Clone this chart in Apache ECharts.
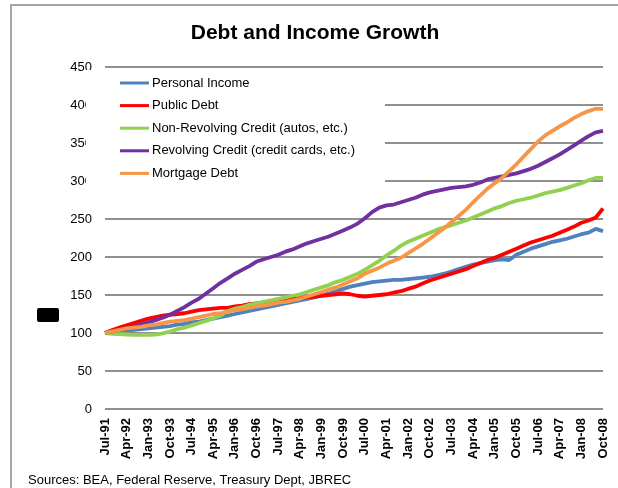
<!DOCTYPE html>
<html><head><meta charset="utf-8">
<script src="https://cdn.jsdelivr.net/npm/echarts@6/dist/echarts.min.js"></script>
<style>html,body{margin:0;padding:0;background:#fff}#c{width:618px;height:488px}</style>
</head><body><div id="c"></div>
<script>
const categories = ['Jul-91','Oct-91','Jan-92','Apr-92','Jul-92','Oct-92','Jan-93','Apr-93','Jul-93','Oct-93',
'Jan-94','Apr-94','Jul-94','Oct-94','Jan-95','Apr-95','Jul-95','Oct-95','Jan-96','Apr-96',
'Jul-96','Oct-96','Jan-97','Apr-97','Jul-97','Oct-97','Jan-98','Apr-98','Jul-98','Oct-98',
'Jan-99','Apr-99','Jul-99','Oct-99','Jan-00','Apr-00','Jul-00','Oct-00','Jan-01','Apr-01',
'Jul-01','Oct-01','Jan-02','Apr-02','Jul-02','Oct-02','Jan-03','Apr-03','Jul-03','Oct-03',
'Jan-04','Apr-04','Jul-04','Oct-04','Jan-05','Apr-05','Jul-05','Oct-05','Jan-06','Apr-06',
'Jul-06','Oct-06','Jan-07','Apr-07','Jul-07','Oct-07','Jan-08','Apr-08','Jul-08','Oct-08'];

const personalIncome = [100,101,102,103,104,105,106,107,108,109,111,112,114,115,117,119,121,123,125,127,
129,131,133,135,137,139,141,143,145,147,149,152,155,158,161,163,165,167,168,169,
170,170,171,172,173,174,176,178,181,184,187,190,192,194,196,197,196,203,207,211,
214,217,220,222,224,227,230,232,237,234];

const publicDebt = [100,104,107,110,113,116,119,121,123,124,125,126,128,130,131,132,133,133,135,136,
138,139,140,141,143,144,145,146,147,148,149,150,151,152,151,149,148,149,150,151,
153,155,158,161,165,169,172,175,178,181,184,188,192,196,199,203,207,211,215,219,
222,225,228,232,236,240,245,248,252,264];

const nonRevolving = [100,99,98.5,98,97.5,97.5,97.5,98,99.5,102,105,107,110,113,116,119,123,129,132,134,
137,139,141,143,145,147,149,151,154,157,160,163,167,170,174,178,183,189,195,202,
208,215,220,224,228,232,236,239,242,245,248,252,256,260,264,267,271,274,276,278,
281,284,286,288,291,294,297,301,304,304];

const revolving = [100,102,104,106,108,111,114,117,120,124,129,134,140,145,152,159,166,172,178,183,
188,194,197,200,203,207,210,214,218,221,224,227,231,235,239,244,251,259,265,268,
269,272,275,278,282,285,287,289,291,292,293,295,298,302,304,306,308,310,313,316,
320,325,330,335,341,347,353,359,364,366];

const mortgage = [100,102,104,106,107,108,110,111,113,115,116,117,119,121,123,125,126,128,130,131,
133,135,136,138,140,141,143,145,148,151,154,157,160,164,168,172,178,182,186,191,
195,199,205,211,217,224,231,238,246,254,262,272,281,290,297,304,313,322,332,342,
352,360,366,372,377,383,388,392,395,395];

const seriesNames = ['Personal Income','Public Debt','Non-Revolving Credit (autos, etc.)','Revolving Credit (credit cards, etc.)','Mortgage Debt'];
const seriesData = [personalIncome, publicDebt, nonRevolving, revolving, mortgage];
const seriesColors = ['#4F81BD','#FF0000','#92D050','#7030A0','#F79646'];

const FONT = 'Liberation Sans';
const chart = echarts.init(document.getElementById('c'), null, {renderer:'canvas'});
chart.setOption({
  animation: false,
  backgroundColor: '#fff',
  grid: {left: 105, right: 15, top: 67, bottom: 79},
  legend: {
    orient: 'vertical', left: 86, top: 70, z: 10,
    backgroundColor: '#fff',
    padding: [5, 30, 7, 34],
    icon: 'rect', itemWidth: 29, itemHeight: 3, itemGap: 6.6,
    textStyle: {fontFamily: FONT, fontSize: 13, color: '#000', lineHeight: 16, padding: [0,0,0,-2]},
    data: seriesNames
  },
  xAxis: {
    type: 'category', boundaryGap: false, data: categories,
    axisLine: {show: false}, axisTick: {show: false},
    axisLabel: {interval: 2, rotate: 90, margin: 9, fontFamily: FONT, fontSize: 13, fontWeight: 'bold', color: '#000'}
  },
  yAxis: {
    type: 'value', min: 0, max: 450, interval: 50,
    axisLine: {show: false}, axisTick: {show: false},
    axisLabel: {margin: 13, fontFamily: FONT, fontSize: 13, color: '#000'},
    splitLine: {lineStyle: {color: '#909090', width: 2}}
  },
  series: seriesNames.map((n, k) => ({
    name: n, type: 'line', data: seriesData[k], showSymbol: false, symbol: 'none',
    lineStyle: {width: 3.8, color: seriesColors[k]}, itemStyle: {color: seriesColors[k]}
  })),
  graphic: [
    {type: 'rect', shape: {x: 11, y: 5, width: 800, height: 700}, style: {fill: 'none', stroke: '#a6a6a6', lineWidth: 2}, silent: true},
    {type: 'text', x: 315, y: 33, style: {text: 'Debt and Income Growth', fontFamily: FONT, fontSize: 21, fontWeight: 'bold', fill: '#000', align: 'center', verticalAlign: 'middle'}},
    {type: 'text', x: 28, y: 480, style: {text: 'Sources: BEA, Federal Reserve, Treasury Dept, JBREC', fontFamily: FONT, fontSize: 13, fill: '#000', align: 'left', verticalAlign: 'middle'}},
    {type: 'rect', shape: {x: 37, y: 308, width: 22, height: 14, r: 2}, style: {fill: '#000'}, silent: true}
  ]
});
</script></body></html>
